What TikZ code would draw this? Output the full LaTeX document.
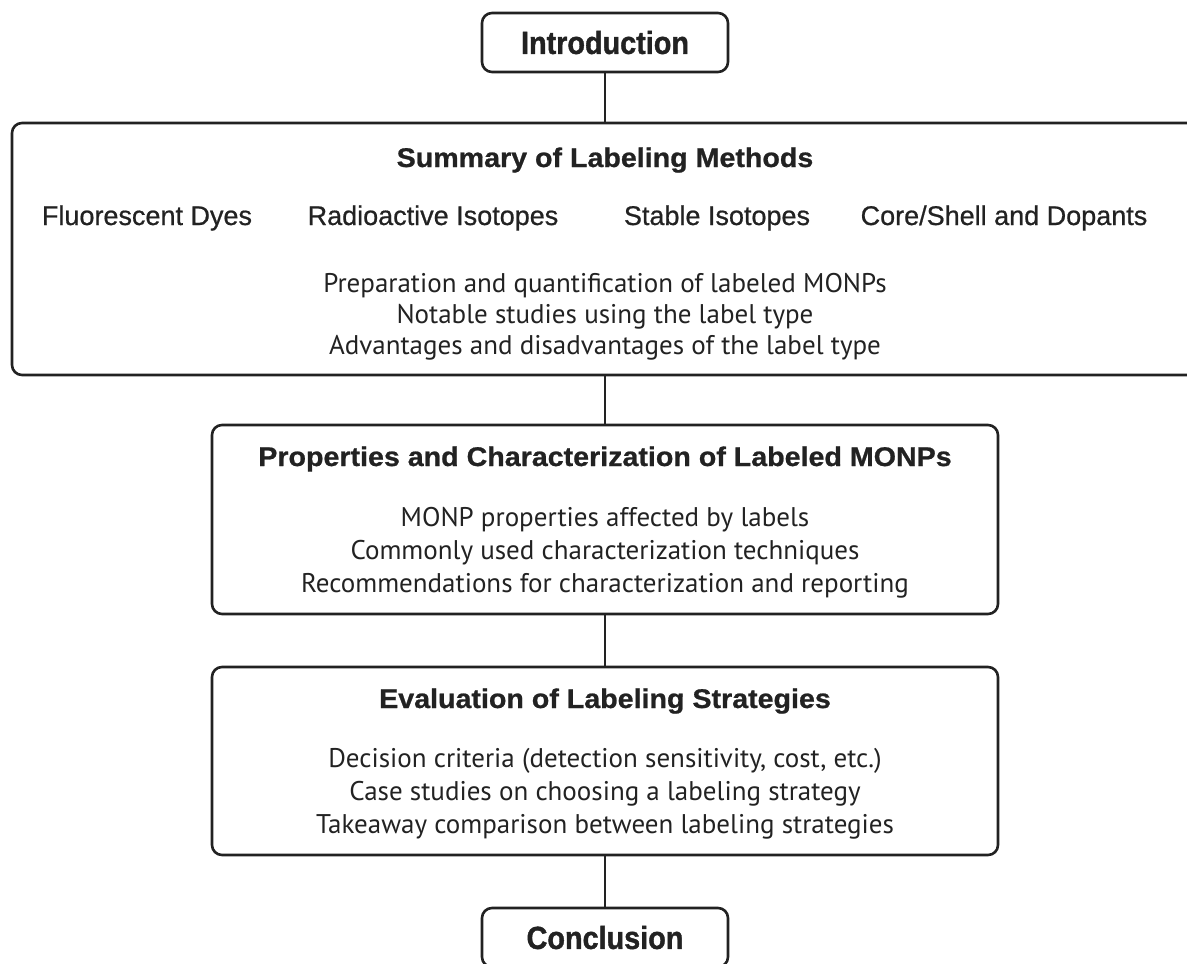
\documentclass[tikz,border=0pt]{standalone}
\usepackage{fontspec}
\setmainfont{PT Sans}
\newfontfamily\capfont[FakeStretch=0.9,FakeBold=1.2]{Liberation Sans}
\newfontfamily\headfont[FakeStretch=1.06,FakeBold=0.8]{Liberation Sans}
\newfontfamily\typefont[FakeBold=0.7]{Liberation Sans}
\definecolor{ink}{HTML}{222222}
\begin{document}
\begin{tikzpicture}[x=1pt,y=-1pt]
        \tikzstyle{box}=[draw=ink, line width=2.6pt, rounded corners=10pt, inner sep=0pt, text=ink]
        \tikzstyle{endbox}=[box, minimum width=246pt, minimum height=59pt, font=\capfont\bfseries\fontsize{32}{36}\selectfont]
        \tikzstyle{secbox}=[box, minimum width=786pt, minimum height=189pt]
        \tikzstyle{boxtitle}=[anchor=base, text=ink, font=\headfont\bfseries\fontsize{27}{30}\selectfont]
        \tikzstyle{labeltype}=[anchor=base, text=ink, font=\typefont\fontsize{27}{30}\selectfont]
        \tikzstyle{topic}=[anchor=base, text=ink, font=\fontsize{27}{33}\selectfont]
        \useasboundingbox (0,0) rectangle (1187,964);
        % boxes
        \node[endbox] (intro) at (605,42.5) {Introduction};
        \node[box, minimum width=1186pt, minimum height=252pt] (summary) at (605,249) {};
        \node[secbox] (props) at (605,519.5) {};
        \node[secbox, minimum height=188pt] (eval) at (605,761) {};
        \node[endbox] (concl) at (605,937.5) {Conclusion};
        % summary of labeling methods
        \node[boxtitle] (sumtitle) at (605,167) {Summary of Labeling Methods};
        \node[labeltype] (dyes) at (147,225) {Fluorescent Dyes};
        \node[labeltype] (radio) at (433,225) {Radioactive Isotopes};
        \node[labeltype] (stable) at (717,225) {Stable Isotopes};
        \node[labeltype] (core) at (1004,225) {Core/Shell and Dopants};
        \node[topic] (sum1) at (605,292) {Preparation and quantification of labeled MONPs};
        \node[topic] (sum2) at (605,323) {Notable studies using the label type};
        \node[topic] (sum3) at (605,354) {Advantages and disadvantages of the label type};
        % properties
        \node[boxtitle] (proptitle) at (605,466) {Properties and Characterization of Labeled MONPs};
        \node[topic] (prop1) at (605,526) {MONP properties affected by labels};
        \node[topic] (prop2) at (605,559) {Commonly used characterization techniques};
        \node[topic] (prop3) at (605,592) {Recommendations for characterization and reporting};
        % evaluation
        \node[boxtitle] (evaltitle) at (605,708) {Evaluation of Labeling Strategies};
        \node[topic] (eval1) at (605,767) {Decision criteria (detection sensitivity, cost, etc.)};
        \node[topic] (eval2) at (605,800) {Case studies on choosing a labeling strategy};
        \node[topic] (eval3) at (605,833) {Takeaway comparison between labeling strategies};
        % connectors
        \path[draw=ink, line width=2.6pt] (intro) edge (summary);
        \path[draw=ink, line width=2.6pt] (summary) edge (props);
        \path[draw=ink, line width=2.6pt] (props) edge (eval);
        \path[draw=ink, line width=2.6pt] (eval) edge (concl);
\end{tikzpicture}
\end{document}
